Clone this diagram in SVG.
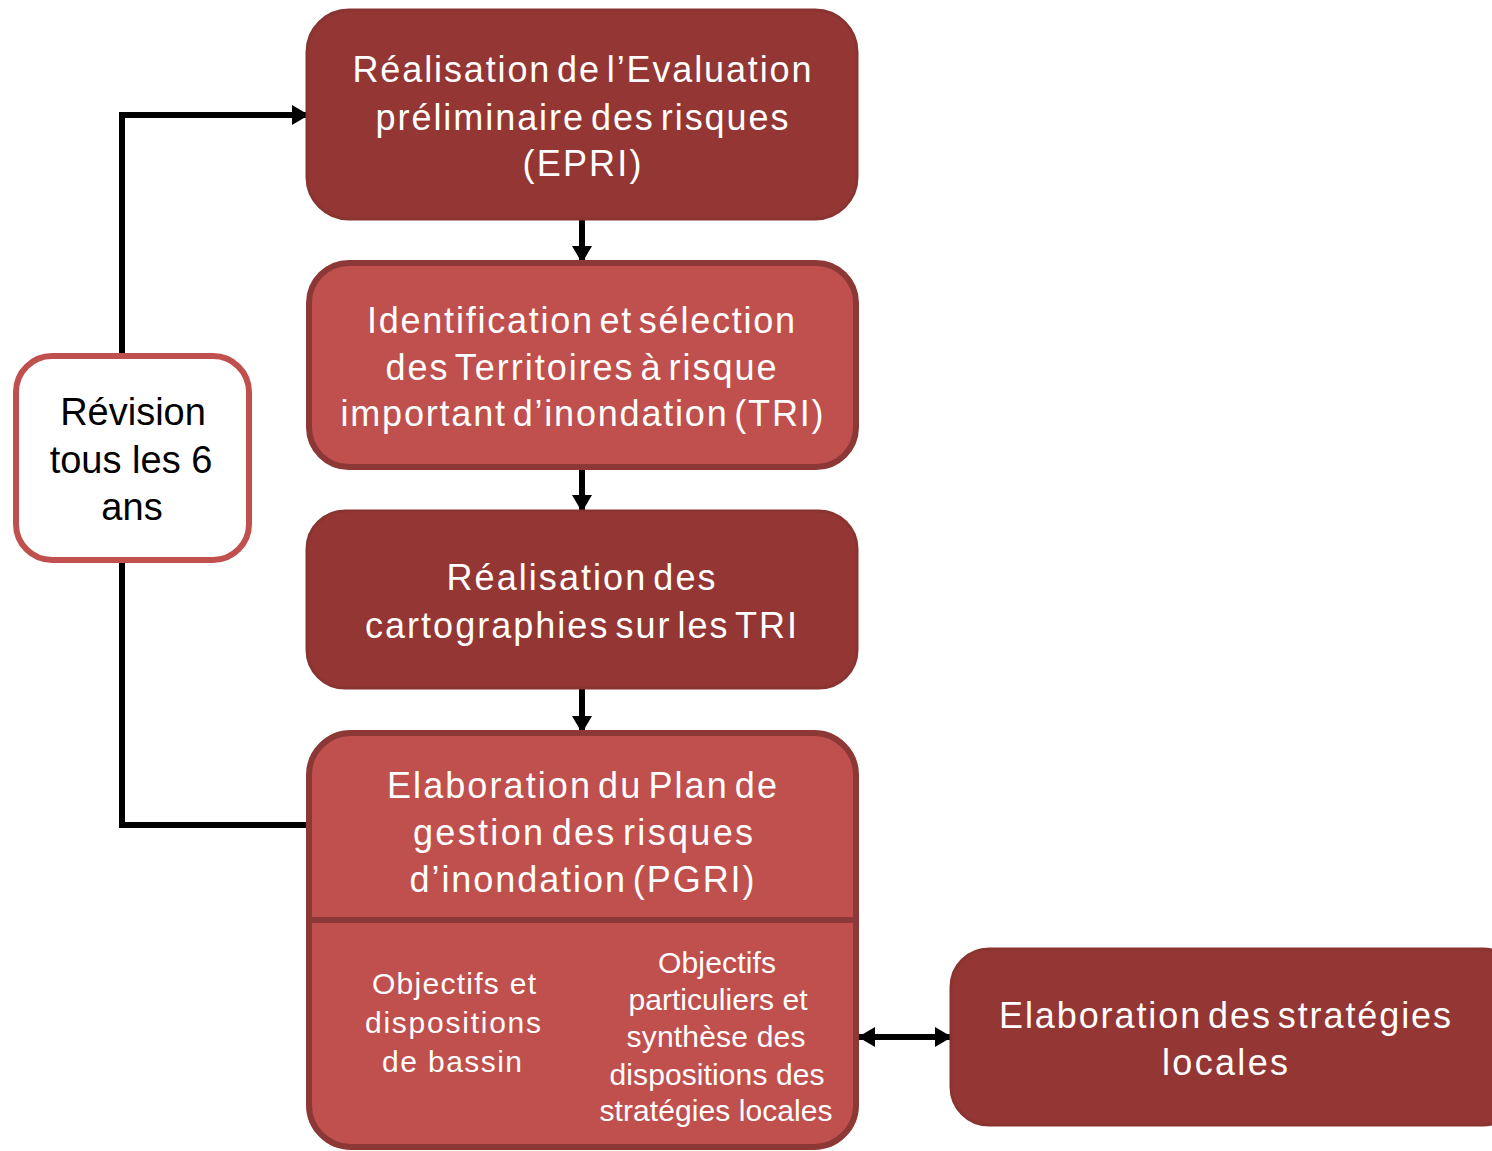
<svg xmlns="http://www.w3.org/2000/svg" width="1492" height="1151" viewBox="0 0 1492 1151">
<style>
.dark{fill:#943634;stroke:#8a3432;stroke-width:3}
.light{fill:#c0504d;stroke:#8c3836;stroke-width:6}
.w{font-family:"Liberation Sans",Arial,sans-serif;fill:#ffffff;text-anchor:middle;font-size:36px;word-spacing:-6px}
.ws{font-family:"Liberation Sans",Arial,sans-serif;fill:#ffffff;text-anchor:middle;font-size:30px}
.b{font-family:"Liberation Sans",Arial,sans-serif;fill:#000000;text-anchor:middle;font-size:38px}
.con{fill:none;stroke:#000000;stroke-width:6}
</style>
<defs>
<marker id="ah" viewBox="0 0 17 20" refX="17" refY="10" markerWidth="17" markerHeight="20" markerUnits="userSpaceOnUse" orient="auto-start-reverse">
<path d="M0,0 L17,10 L0,20 Z" fill="#000000"/>
</marker>
</defs>
<g id="connectors">
<path class="con" d="M582,216 V263" marker-end="url(#ah)"/>
<path class="con" d="M582,465 V512" marker-end="url(#ah)"/>
<path class="con" d="M582,685 V733" marker-end="url(#ah)"/>
<path class="con" stroke-width="5" d="M310,825 H122 V115 H309" marker-end="url(#ah)"/>
<path class="con" d="M858,1037 H952" marker-start="url(#ah)" marker-end="url(#ah)"/>
</g>
<g id="epri">
<rect class="dark" x="307" y="10" width="550" height="209" rx="42"/>
<text class="w" x="582" y="82" textLength="459" lengthAdjust="spacing">Réalisation de l’Evaluation</text>
<text class="w" x="582" y="130" textLength="413" lengthAdjust="spacing">préliminaire des risques</text>
<text class="w" x="582" y="176" textLength="119" lengthAdjust="spacing">(EPRI)</text>
</g>
<g id="tri">
<rect class="light" x="309" y="263" width="547" height="204" rx="40"/>
<text class="w" x="581" y="333" textLength="428" lengthAdjust="spacing">Identification et sélection</text>
<text class="w" x="581" y="380" textLength="391" lengthAdjust="spacing">des Territoires à risque</text>
<text class="w" x="582" y="426" textLength="483" lengthAdjust="spacing">important d’inondation (TRI)</text>
</g>
<g id="carto">
<rect class="dark" x="307" y="511" width="550" height="177" rx="38"/>
<text class="w" x="581" y="590" textLength="269" lengthAdjust="spacing">Réalisation des</text>
<text class="w" x="581" y="638" textLength="432" lengthAdjust="spacing">cartographies sur les TRI</text>
</g>
<g id="pgri">
<rect class="light" x="309" y="733" width="547" height="414" rx="42"/>
<line x1="309" y1="920" x2="856" y2="920" stroke="#8c3836" stroke-width="6"/>
<text class="w" x="582" y="798" textLength="390" lengthAdjust="spacing">Elaboration du Plan de</text>
<text class="w" x="583" y="845" textLength="340" lengthAdjust="spacing">gestion des risques</text>
<text class="w" x="582" y="892" textLength="345" lengthAdjust="spacing">d’inondation (PGRI)</text>
<text class="ws" x="454" y="994" textLength="164" lengthAdjust="spacing">Objectifs et</text>
<text class="ws" x="453" y="1033" textLength="176" lengthAdjust="spacing">dispositions</text>
<text class="ws" x="452" y="1072" textLength="140" lengthAdjust="spacing">de bassin</text>
<text class="ws" x="717" y="973" textLength="118" lengthAdjust="spacing">Objectifs</text>
<text class="ws" x="718" y="1010" textLength="179" lengthAdjust="spacing">particuliers et</text>
<text class="ws" x="716" y="1047" textLength="179" lengthAdjust="spacing">synthèse des</text>
<text class="ws" x="717" y="1085" textLength="215" lengthAdjust="spacing">dispositions des</text>
<text class="ws" x="716" y="1121" textLength="233" lengthAdjust="spacing">stratégies locales</text>
</g>
<g id="strategies">
<rect class="dark" x="951" y="949" width="570" height="176" rx="38"/>
<text class="w" x="1225" y="1028" textLength="452" lengthAdjust="spacing">Elaboration des stratégies</text>
<text class="w" x="1225" y="1075" textLength="126" lengthAdjust="spacing">locales</text>
</g>
<g id="revision">
<rect x="16" y="356" width="233" height="204" rx="36" fill="#ffffff" stroke="#c0504d" stroke-width="6"/>
<text class="b" x="133" y="425">Révision</text>
<text class="b" x="131" y="473">tous les 6</text>
<text class="b" x="132" y="520">ans</text>
</g>
</svg>
